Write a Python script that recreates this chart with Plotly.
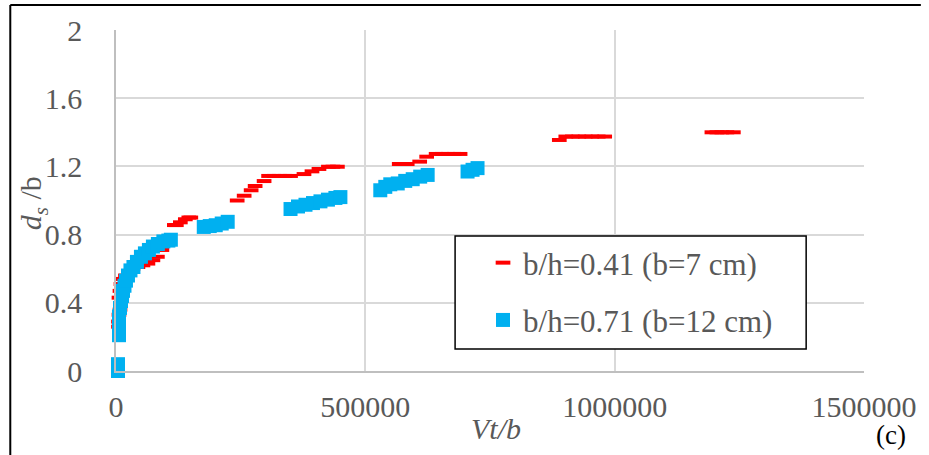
import plotly.graph_objects as go

# ---- data ----
red_x = [8000, 5000, 5000, 6000, 6000, 8000, 10000, 14000, 19000, 26000, 34000, 44000, 54000, 64000, 74000, 83000, 92000,
         117000, 121000, 129000, 139000, 146000, 150000,
         243000, 257000, 271000, 279000, 297000, 306000, 317000, 328000, 339000, 350000,
         377000, 393000, 407000, 426000, 435000, 444000,
         568000, 576000, 584000, 609000, 623000, 642000, 654000, 666000, 678000, 690000,
         889000, 902000, 915000, 928000, 941000, 954000, 967000, 980000,
         1195000, 1205000, 1215000, 1225000, 1238000]
red_y = [0.36, 0.26, 0.29, 0.33, 0.43, 0.47, 0.51, 0.54, 0.56, 0.58, 0.60, 0.61, 0.62, 0.63, 0.65, 0.67, 0.71,
         0.856, 0.856, 0.872, 0.89, 0.90, 0.90,
         1.0, 1.028, 1.06, 1.085, 1.114, 1.144, 1.144, 1.144, 1.144, 1.144,
         1.155, 1.171, 1.185, 1.198, 1.198, 1.198,
         1.214, 1.214, 1.214, 1.228, 1.257, 1.273, 1.273, 1.273, 1.273, 1.273,
         1.355, 1.375, 1.375, 1.375, 1.375, 1.375, 1.375, 1.375,
         1.40, 1.40, 1.40, 1.40, 1.40]

blue_x = [4000, 4000, 6000, 6000, 6000, 6000, 8000, 10000, 12000, 14000, 17000, 20000, 24000, 29000, 35000,
          42000, 50000, 58000, 66000, 74000, 84000, 95000, 105000, 110000,
          176000, 188000, 200000, 212000, 224000,
          350000, 365000, 380000, 395000, 410000, 425000, 440000, 450000,
          530000, 540000, 550000, 565000, 580000, 595000, 610000, 625000,
          705000, 715000, 725000]
blue_y = [0.0, 0.04, 0.21, 0.25, 0.29, 0.32, 0.37, 0.41, 0.44, 0.47, 0.50, 0.53, 0.56, 0.59, 0.61,
          0.64, 0.67, 0.69, 0.71, 0.73, 0.745, 0.76, 0.765, 0.77,
          0.845, 0.85, 0.855, 0.865, 0.875,
          0.95, 0.965, 0.975, 0.985, 0.995, 1.005, 1.015, 1.02,
          1.06, 1.08, 1.095, 1.10, 1.115, 1.125, 1.14, 1.15,
          1.17, 1.18, 1.19]

red_name = "b/h=0.41 (b=7 cm)"
blue_name = "b/h=0.71 (b=12 cm)"
x_ticks = [0, 500000, 1000000, 1500000]
y_ticks = [0, 0.4, 0.8, 1.2, 1.6, 2]

FONT = "Liberation Serif"
GRAY = "#595959"

fig = go.Figure()
fig.add_trace(go.Scatter(
    x=red_x, y=red_y, mode="markers", name=red_name, cliponaxis=False,
    legendgroup="r",
    marker=dict(symbol="line-ew", size=10.5, color="#FF0000",
                line=dict(width=4, color="#FF0000"))))
fig.add_trace(go.Scatter(
    x=blue_x, y=blue_y, mode="markers", name=blue_name, cliponaxis=False,
    legendgroup="b",
    marker=dict(symbol="square", size=14, color="#00B0F0", line=dict(width=0))))

L, R, T, B = 116, 63, 30, 84
W, H = 929, 455
pw, ph = W - L - R, H - T - B

def px(xp):
    return (xp - L) / pw

def py(yp):
    return (H - B - yp) / ph

fig.update_layout(
    width=W, height=H,
    margin=dict(l=L, r=R, t=T, b=B, pad=0),
    paper_bgcolor="white", plot_bgcolor="white",
    font=dict(family=FONT, size=30, color=GRAY),
    showlegend=True,
    legend=dict(x=px(484), y=py(236), xanchor="left", yanchor="top",
                bgcolor="rgba(0,0,0,0)", borderwidth=0,
                font=dict(family=FONT, size=31, color=GRAY),
                traceorder="grouped", tracegroupgap=14, itemsizing="trace"),
    xaxis=dict(range=[0, 1500000], tickvals=x_ticks, tickformat="d",
               showgrid=True, gridcolor="#D9D9D9", gridwidth=1.5,
               zeroline=False, showline=True, linecolor="#BFBFBF", linewidth=1.5,
               ticks="", ticklabelstandoff=8,
               tickfont=dict(family=FONT, size=30, color=GRAY)),
    yaxis=dict(range=[0, 2], tickvals=y_ticks,
               showgrid=True, gridcolor="#D9D9D9", gridwidth=1.5,
               zeroline=False, showline=True, linecolor="#BFBFBF", linewidth=1.5,
               ticks="", ticklabelstandoff=26,
               tickfont=dict(family=FONT, size=30, color=GRAY)),
    shapes=[
        dict(type="rect", xref="paper", yref="paper",
             x0=px(456), x1=px(808), y0=py(349), y1=py(236),
             line=dict(color="black", width=1.5), fillcolor="white", layer="above"),
        dict(type="line", xref="paper", yref="paper",
             x0=px(10), x1=px(923), y0=py(5), y1=py(5),
             line=dict(color="black", width=2)),
        dict(type="line", xref="paper", yref="paper",
             x0=px(10), x1=px(10), y0=py(5), y1=py(460),
             line=dict(color="black", width=2)),
    ],
    annotations=[
        dict(text="<i>Vt/b</i>", xref="paper", yref="paper", x=px(497), y=py(428),
             xanchor="center", yanchor="middle", showarrow=False,
             font=dict(family=FONT, size=30, color=GRAY)),
        dict(text="(c)", xref="paper", yref="paper", x=px(893), y=py(435),
             xanchor="center", yanchor="middle", showarrow=False,
             font=dict(family=FONT, size=27, color="black")),
        dict(text="<i>d</i><sub><i>s</i></sub> /b", xref="paper", yref="paper",
             x=px(33), y=py(203), textangle=-90,
             xanchor="center", yanchor="middle", showarrow=False,
             font=dict(family=FONT, size=30, color=GRAY)),
    ],
)

fig.write_html("out.html")
